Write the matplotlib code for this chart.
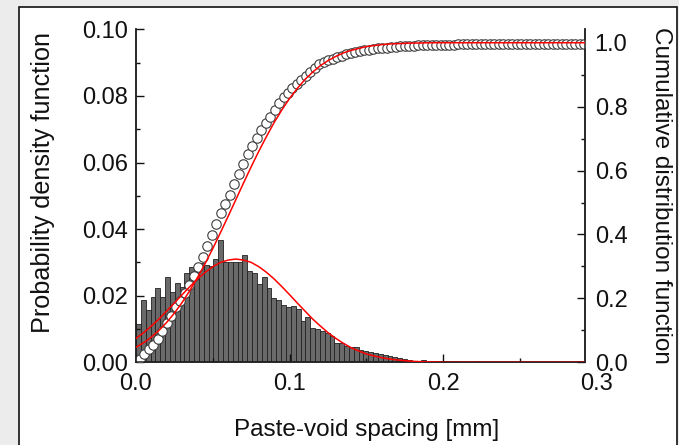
import numpy as np
import matplotlib
matplotlib.use("Agg")
import matplotlib.pyplot as plt
from matplotlib.patches import Rectangle
from matplotlib import transforms
from matplotlib.ticker import MultipleLocator

plt.rcParams["font.family"] = ["Liberation Sans", "DejaVu Sans"]

# Histogram of paste-void spacing (probability per bin)
bin_width = 0.00315
pdf_hist = [
    0.0114, 0.0187, 0.0157, 0.0197, 0.0224, 0.0195, 0.0255, 0.0212, 0.0239, 0.0225,
    0.0267, 0.0287, 0.0287, 0.0297, 0.0292, 0.0290, 0.0310, 0.0366, 0.0300, 0.0300,
    0.0300, 0.0302, 0.0322, 0.0275, 0.0267, 0.0235, 0.0255, 0.0222, 0.0192, 0.0188,
    0.0172, 0.0167, 0.0170, 0.0160, 0.0124, 0.0135, 0.0102, 0.0100, 0.0094, 0.0087,
    0.0080, 0.0058, 0.0057, 0.0050, 0.0046, 0.0045, 0.0037, 0.0035, 0.0032, 0.0028,
    0.0025, 0.0022, 0.0019, 0.0016, 0.0012, 0.0011, 0.0007, 0.0005, 0.0005, 0.0007,
    0.0005, 0.0005, 0.0004, 0.0003, 0.0003, 0.0003, 0.0003, 0.0, 0.0, 0.0,
    0.0003, 0.0002, 0.0, 0.0, 0.0, 0.0, 0.0, 0.0, 0.0, 0.0,
    0.0, 0.0, 0.0, 0.0, 0.0, 0.0, 0.0, 0.0, 0.0, 0.0,
    0.0, 0.0003, 0.0003,
]

# Empirical cumulative distribution (open circles)
cdf_start, cdf_step = 0.0026, 0.00292
cdf_points = [
    0.010, 0.027, 0.041, 0.055, 0.073, 0.097, 0.124, 0.145, 0.172, 0.192,
    0.216, 0.243, 0.269, 0.299, 0.328, 0.364, 0.398, 0.432, 0.467, 0.495,
    0.525, 0.557, 0.590, 0.619, 0.652, 0.677, 0.701, 0.728, 0.750, 0.768,
    0.791, 0.811, 0.829, 0.844, 0.858, 0.871, 0.884, 0.897, 0.908, 0.921,
    0.933, 0.940, 0.945, 0.950, 0.955, 0.960, 0.964, 0.968, 0.971, 0.974,
    0.976, 0.978, 0.980, 0.982, 0.984, 0.985, 0.987, 0.988, 0.989, 0.990,
    0.991, 0.991, 0.992, 0.992, 0.993, 0.993, 0.993, 0.994, 0.994, 0.994,
    0.994, 0.995, 0.995, 0.995, 0.995, 0.995, 0.995, 0.995, 0.995, 0.995,
    0.995, 0.995, 0.995, 0.995, 0.995, 0.995, 0.995, 0.995, 0.995, 0.995,
    0.995, 0.995, 0.995, 0.995, 0.995, 0.995, 0.995, 0.995, 0.995, 0.995,
]

# Fitted curves (red lines)
fit_x = list(np.round(np.arange(0, 0.2001, 0.005), 3)) + [0.25, 0.2923]
pdf_fit = [
    0.0072, 0.0089, 0.0109, 0.0130, 0.0154, 0.0178, 0.0203, 0.0227, 0.0250, 0.0270,
    0.0287, 0.0300, 0.0307, 0.0310, 0.0307, 0.0300, 0.0287, 0.0270, 0.0250, 0.0227,
    0.0203, 0.0178, 0.0154, 0.0130, 0.0109, 0.0089, 0.0072, 0.0057, 0.0044, 0.0034,
    0.0025, 0.0019, 0.0014, 0.0010, 0.0007, 0.0005, 0.0003, 0.0002, 0.0001, 0.0001,
    0.0, 0.0, 0.0,
]
cdf_fit = [
    0.047, 0.061, 0.079, 0.100, 0.125, 0.154, 0.187, 0.224, 0.265, 0.309,
    0.356, 0.406, 0.457, 0.509, 0.561, 0.612, 0.661, 0.707, 0.751, 0.790,
    0.826, 0.857, 0.885, 0.908, 0.928, 0.944, 0.957, 0.968, 0.976, 0.982,
    0.988, 0.991, 0.994, 0.996, 0.997, 0.998, 0.999, 0.999, 1.0, 1.0,
    1.0, 1.0, 1.0,
]

x_ticks = [0.0, 0.1, 0.2, 0.3]
x_max = 0.2923

W, H = 679, 445
fig = plt.figure(figsize=(W / 100, H / 100), dpi=100, facecolor="#ececec")

# white framed panel behind the axes
fig.patches.append(Rectangle((19 / W, -0.05), (677 - 19) / W, 1.05 - 7 / H,
                             transform=fig.transFigure, facecolor="white",
                             edgecolor="#111111", linewidth=1.2, zorder=-10))

ax = fig.add_axes([136 / W, 1 - 362.3 / H, (585 - 136) / W, (362.3 - 29.3) / H])
ax.patch.set_alpha(0)
ax2 = ax.twinx()
ax2.patch.set_alpha(0)

bin_left = np.arange(len(pdf_hist)) * bin_width
ax.bar(bin_left, pdf_hist, width=bin_width, align="edge",
       color="#6a6a6a", edgecolor="#222222", linewidth=0.6, zorder=1)

cdf_x = cdf_start + np.arange(len(cdf_points)) * cdf_step
ax2.plot(cdf_x, cdf_points, linestyle="none", marker="o", markersize=6.8,
         markerfacecolor="white", markeredgecolor="#3c3c3c",
         markeredgewidth=0.8, zorder=2)
ax2.plot(fit_x, cdf_fit, color="#ff0000", linewidth=1.1, zorder=3)
ax2.plot(fit_x, pdf_fit, color="#ff0000", linewidth=1.1, zorder=3,
         transform=ax.transData)

ax.set_xlim(0, x_max)
ax.set_ylim(0, 0.10)
ax2.set_ylim(0, 1.042)

tick_font = 17
ax.set_xticks(x_ticks[:3])
ax.xaxis.set_minor_locator(MultipleLocator(0.05))
ax.set_yticks([0.0, 0.02, 0.04, 0.06, 0.08, 0.10])
ax.yaxis.set_minor_locator(MultipleLocator(0.01))
ax.set_yticklabels([f"{v:.2f}" for v in [0.0, 0.02, 0.04, 0.06, 0.08, 0.10]])
ax.set_xticklabels([f"{v:.1f}" for v in x_ticks[:3]])
ax2.set_yticks([0.0, 0.2, 0.4, 0.6, 0.8, 1.0])
ax2.set_yticklabels([f"{v:.1f}" for v in [0.0, 0.2, 0.4, 0.6, 0.8, 1.0]])
ax2.yaxis.set_minor_locator(MultipleLocator(0.1))

for a in (ax, ax2):
    a.tick_params(which="major", direction="in", length=5.5, width=1.0,
                  labelsize=tick_font, colors="#111111", pad=6.0)
    a.tick_params(which="minor", direction="in", length=3.2, width=1.0,
                  colors="#111111")
    for s in a.spines.values():
        s.set_linewidth(1.1)
        s.set_color("#222222")
    a.spines["top"].set_visible(False)
ax.tick_params(axis="x", which="both", top=False)
ax.tick_params(axis="x", which="major", pad=8.0)
ax2.tick_params(axis="y", which="major", pad=7.0)

# last x label sits just beyond the frame
lab_tr = transforms.offset_copy(
    transforms.blended_transform_factory(ax.transData, ax.transAxes),
    fig=fig, y=-8.0, units="points")
ax.text(x_ticks[3], 0, f"{x_ticks[3]:.1f}", transform=lab_tr, ha="center",
        va="top", fontsize=tick_font, color="#111111", clip_on=False)

ax.set_xlabel("Paste-void spacing [mm]", fontsize=17.5, color="#111111")
ax.xaxis.set_label_coords(0.513, -0.17)
ax.set_ylabel("Probability density function", fontsize=18.2, color="#111111")
ax.yaxis.set_label_coords(-0.18, 0.54)
ax2.set_ylabel("Cumulative distribution function", fontsize=17.5,
               color="#111111", rotation=270, va="bottom")
ax2.yaxis.set_label_coords(1.145, 0.5)

fig.savefig("out.png", dpi=100, facecolor=fig.get_facecolor())
